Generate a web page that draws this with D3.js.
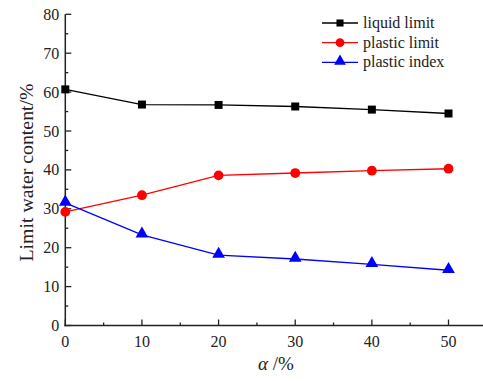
<!DOCTYPE html>
<html><head><meta charset="utf-8">
<script src="https://cdn.jsdelivr.net/npm/d3@7"></script>
<style>body{margin:0;background:#fff}svg{display:block}text{font-family:"Liberation Serif","Times New Roman",serif;fill:#222}</style>
</head><body>
<svg id="c" width="483" height="381"></svg>
<script>
const xValues = [0, 10, 20, 30, 40, 50];
const liquidLimit = [60.7, 56.8, 56.7, 56.3, 55.5, 54.5];
const plasticLimit = [29.2, 33.5, 38.6, 39.2, 39.8, 40.3];
const plasticIndex = [31.5, 23.3, 18.1, 17.1, 15.7, 14.2];
const xTicks = [0, 10, 20, 30, 40, 50];
const yTicks = [0, 10, 20, 30, 40, 50, 60, 70, 80];
const seriesNames = ["liquid limit", "plastic limit", "plastic index"];
const seriesColors = ["#000000", "#ff0000", "#0000ff"];
const seriesSymbols = [d3.symbolSquare, d3.symbolCircle, d3.symbolTriangle];
const seriesData = [liquidLimit, plasticLimit, plasticIndex];

const svg = d3.select("#c");
const x = d3.scaleLinear().domain([0, 54.5]).range([65.3, 483]);
const y = d3.scaleLinear().domain([0, 80]).range([325.5, 14.3]);

// axes
const gx = svg.append("g").attr("transform", `translate(0,${y(0)})`);
gx.append("line").attr("x1", x(0)-1).attr("x2", 483).attr("stroke", "#222").attr("stroke-width", 1.5);
gx.selectAll(".mj").data(xTicks).join("line").attr("x1", d=>x(d)).attr("x2", d=>x(d)).attr("y1", 0).attr("y2", -6).attr("stroke", "#222").attr("stroke-width", 1.3);
gx.selectAll(".mn").data(xTicks.map(d=>d+5)).join("line").attr("x1", d=>x(d)).attr("x2", d=>x(d)).attr("y1", 0).attr("y2", -3).attr("stroke", "#222").attr("stroke-width", 1.3);
gx.selectAll("text").data(xTicks).join("text").attr("x", d=>x(d)).attr("y", 21).attr("text-anchor", "middle").attr("font-size", 16).text(d=>d);

const gy = svg.append("g").attr("transform", `translate(${x(0)},0)`);
gy.append("line").attr("y1", y(0)+0.75).attr("y2", y(80)).attr("stroke", "#222").attr("stroke-width", 1.5);
gy.selectAll(".mj").data(yTicks).join("line").attr("y1", d=>y(d)).attr("y2", d=>y(d)).attr("x1", 0).attr("x2", 6).attr("stroke", "#222").attr("stroke-width", 1.3);
gy.selectAll(".mn").data(yTicks.slice(0,-1).map(d=>d+5)).join("line").attr("y1", d=>y(d)).attr("y2", d=>y(d)).attr("x1", 0).attr("x2", 3).attr("stroke", "#222").attr("stroke-width", 1.3);
gy.selectAll("text").data(yTicks).join("text").attr("x", -6).attr("y", d=>y(d)+5.5).attr("text-anchor", "end").attr("font-size", 16).text(d=>d);

// labels
svg.append("text").attr("transform", "translate(33,172.5) rotate(-90)").attr("text-anchor", "middle").attr("font-size", 19.8).text("Limit water content/%");
const xl = svg.append("text").attr("x", 276).attr("y", 370).attr("text-anchor", "middle").attr("font-size", 19);
xl.append("tspan").attr("font-style", "italic").text("α");
xl.append("tspan").text(" /%");

// series
const line = d3.line().x((d,i)=>x(xValues[i])).y(d=>y(d));
seriesData.forEach((data, k) => {
  const g = svg.append("g");
  g.append("path").datum(data).attr("d", line).attr("fill", "none").attr("stroke", seriesColors[k]).attr("stroke-width", 1.3);
  const sizes = [64, 75, 70];
  g.selectAll("path.m").data(data).join("path").attr("class","m")
    .attr("transform", (d,i)=>`translate(${x(xValues[i])},${y(d) + (k===2?-1:0)})`)
    .attr("d", d3.symbol().type(seriesSymbols[k]).size(sizes[k])).attr("fill", seriesColors[k]);
});

// legend
const lg = svg.append("g");
seriesNames.forEach((name, k) => {
  const ly = 23 + k*19.7;
  lg.append("line").attr("x1", 322).attr("x2", 358).attr("y1", ly).attr("y2", ly).attr("stroke", seriesColors[k]).attr("stroke-width", 1.3);
  lg.append("path").attr("transform", `translate(340,${ly + (k===2?-1:0)})`).attr("d", d3.symbol().type(seriesSymbols[k]).size([50,60,60][k])).attr("fill", seriesColors[k]);
  lg.append("text").attr("x", 363).attr("y", ly+5).attr("font-size", 16).text(name);
});
</script>
</body></html>
